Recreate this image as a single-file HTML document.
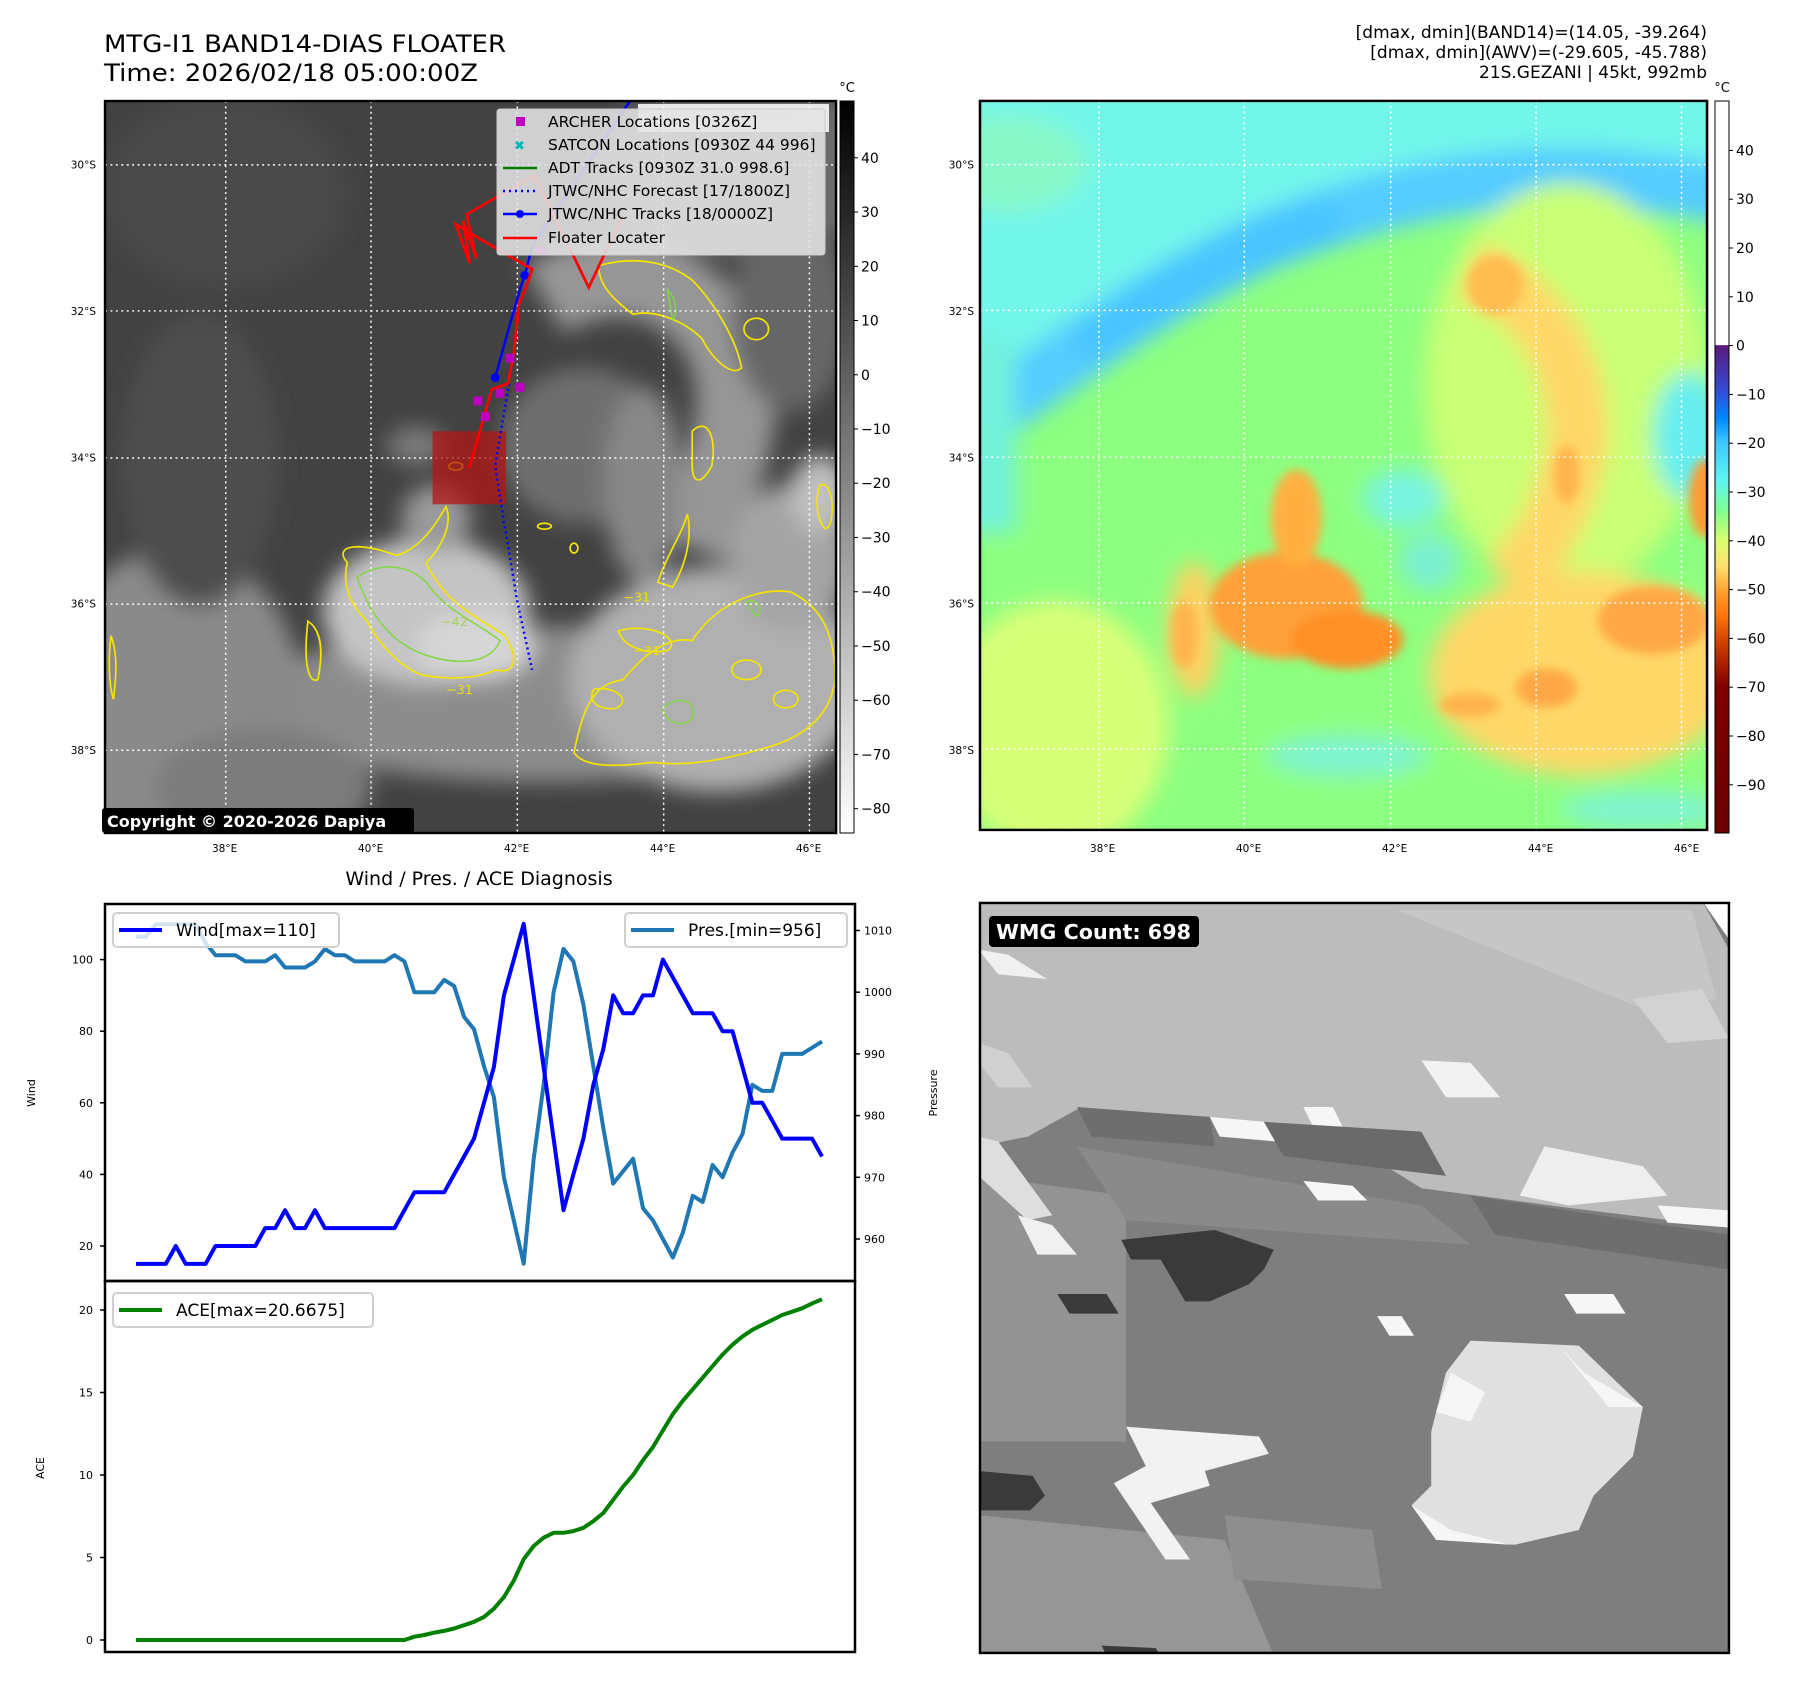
<!DOCTYPE html>
<html><head><meta charset="utf-8"><title>MTG-I1 BAND14-DIAS FLOATER</title>
<style>
html,body{margin:0;padding:0;background:#fff;}
svg{display:block;font-family:"DejaVu Sans","Liberation Sans",sans-serif;}
</style></head>
<body>
<svg id="fig" width="1797" height="1690" viewBox="0 0 1797 1690" xmlns="http://www.w3.org/2000/svg">
<defs>
  <filter id="b1" x="-50%" y="-50%" width="200%" height="200%"><feGaussianBlur stdDeviation="22"/></filter>
  <filter id="b2" x="-50%" y="-50%" width="200%" height="200%"><feGaussianBlur stdDeviation="10"/></filter>
  <clipPath id="clipL"><rect x="8" y="12" width="1484" height="1503"/></clipPath>
  <clipPath id="clipR"><rect x="0" y="12" width="1425" height="1500"/></clipPath>
  <clipPath id="clipW"><rect x="3" y="5" width="1522" height="1525"/></clipPath>
  <linearGradient id="cbGray" x1="0" y1="0" x2="0" y2="1">
    <stop offset="0" stop-color="#000"/><stop offset="1" stop-color="#fff"/>
  </linearGradient>
  <linearGradient id="cbCol" x1="0" y1="0" x2="0" y2="1">
    <stop offset="0" stop-color="#fff"/>
    <stop offset="0.333" stop-color="#fff"/>
    <stop offset="0.334" stop-color="#5a1a7c"/>
    <stop offset="0.40" stop-color="#3050d8"/>
    <stop offset="0.433" stop-color="#0088ff"/>
    <stop offset="0.467" stop-color="#40c8ff"/>
    <stop offset="0.52" stop-color="#60f4f0"/>
    <stop offset="0.56" stop-color="#80ff90"/>
    <stop offset="0.60" stop-color="#d8ff70"/>
    <stop offset="0.635" stop-color="#ffe070"/>
    <stop offset="0.67" stop-color="#ffa030"/>
    <stop offset="0.70" stop-color="#ff7a10"/>
    <stop offset="0.74" stop-color="#d04000"/>
    <stop offset="0.80" stop-color="#800000"/>
    <stop offset="1" stop-color="#6a0000"/>
  </linearGradient>
</defs>

<text x="104" y="52" font-size="24" textLength="402" lengthAdjust="spacingAndGlyphs">MTG-I1 BAND14-DIAS FLOATER</text>
<text x="104" y="81" font-size="24" textLength="374" lengthAdjust="spacingAndGlyphs">Time: 2026/02/18 05:00:00Z</text>
<g font-size="17" text-anchor="end">
  <text x="1707" y="38">[dmax, dmin](BAND14)=(14.05, -39.264)</text>
  <text x="1707" y="58">[dmax, dmin](AWV)=(-29.605, -45.788)</text>
  <text x="1707" y="78">21S.GEZANI | 45kt, 992mb</text>
</g>

<g transform="translate(101.1,95.2) scale(0.4926,0.487)">
  <g clip-path="url(#clipL)">
    <rect x="8" y="12" width="1484" height="1503" fill="#424242"/>
    <g filter="url(#b1)">
      <ellipse cx="250" cy="200" rx="250" ry="200" fill="#4a4a4a"/>
      <ellipse cx="1300" cy="150" rx="300" ry="180" fill="#6a6a6a"/>
      <path d="M900 420 C1050 330 1200 380 1270 520 C1320 650 1260 800 1200 930" stroke="#969696" stroke-width="160" fill="none"/>
      <ellipse cx="980" cy="720" rx="170" ry="160" fill="#6e6e6e"/>
      <ellipse cx="1400" cy="450" rx="120" ry="200" fill="#666"/>
      <ellipse cx="900" cy="1250" rx="620" ry="160" fill="#8c8c8c"/>
      <ellipse cx="150" cy="1250" rx="260" ry="320" fill="#8a8a8a"/>
      <ellipse cx="330" cy="1420" rx="220" ry="120" fill="#7c7c7c"/>
      <ellipse cx="1250" cy="1200" rx="300" ry="230" fill="#b0b0b0"/>
      <ellipse cx="1400" cy="950" rx="120" ry="150" fill="#a4a4a4"/>
      <ellipse cx="1460" cy="820" rx="60" ry="80" fill="#c0c0c0"/>
      <ellipse cx="660" cy="1060" rx="210" ry="150" fill="#c4c4c4"/>
      <ellipse cx="760" cy="1130" rx="120" ry="70" fill="#d6d6d6"/>
      <ellipse cx="680" cy="870" rx="70" ry="70" fill="#9a9a9a"/>
      <ellipse cx="640" cy="720" rx="60" ry="40" fill="#7a7a7a"/>
      <ellipse cx="1100" cy="800" rx="80" ry="200" fill="#888"/>
      <ellipse cx="200" cy="750" rx="160" ry="300" fill="#4e4e4e"/>
    </g>
    <g fill="none" stroke="#f5e400" stroke-width="3.5">
      <path d="M500 960 C470 925 520 915 600 945 C650 930 680 880 700 845 C715 880 690 930 660 960 C700 1050 780 1080 820 1110 C850 1160 840 1190 800 1180 C760 1200 700 1200 650 1190 C600 1170 560 1120 540 1080 C500 1040 490 1000 500 960Z"/>
      <path d="M1010 350 C1080 330 1150 340 1200 380 C1240 420 1290 500 1300 560 C1280 580 1240 540 1220 500 C1180 460 1120 440 1080 450 C1040 420 1010 390 1010 350Z"/>
      <path d="M960 1350 C980 1250 1000 1210 1060 1200 C1100 1150 1150 1110 1200 1120 C1250 1040 1340 1010 1400 1020 C1460 1050 1490 1100 1490 1200 C1480 1280 1420 1320 1350 1340 C1280 1360 1200 1380 1120 1370 C1040 1380 980 1380 960 1350Z"/>
      <path d="M1130 1000 C1150 940 1180 900 1190 860 C1200 900 1190 960 1160 1010Z"/>
      <path d="M1200 690 C1230 660 1250 700 1240 760 C1220 800 1200 800 1200 760Z"/>
      <path d="M420 1080 C450 1100 450 1150 440 1200 C420 1210 410 1160 420 1080Z"/>
      <path d="M20 1110 C35 1150 30 1200 25 1240 C15 1210 15 1150 20 1110Z"/>
      <path d="M1460 800 C1490 790 1490 890 1470 890 C1450 870 1450 820 1460 800Z"/>
      <path d="M1050 1100 C1120 1080 1180 1120 1150 1140 C1100 1150 1060 1130 1050 1100Z"/>
      <path d="M1000 1220 C1050 1210 1080 1250 1040 1260 C1000 1260 990 1240 1000 1220Z"/>
      <ellipse cx="720" cy="762" rx="14" ry="8"/><ellipse cx="900" cy="885" rx="14" ry="6"/>
      <ellipse cx="1330" cy="480" rx="25" ry="22"/><ellipse cx="960" cy="930" rx="8" ry="10"/>
      <ellipse cx="1390" cy="1240" rx="25" ry="18"/><ellipse cx="1310" cy="1180" rx="30" ry="20"/>
    </g>
    <g fill="none" stroke="#80d840" stroke-width="3">
      <path d="M520 990 C560 960 620 960 660 1000 C700 1060 760 1080 810 1120 C790 1170 720 1170 660 1150 C600 1130 550 1080 520 990Z"/>
      <path d="M1140 1260 C1170 1230 1210 1240 1200 1280 C1180 1300 1150 1290 1140 1260Z"/>
      <path d="M1310 1040 C1330 1030 1350 1060 1330 1070Z"/>
      <path d="M1150 400 C1170 420 1170 450 1160 460Z"/>
    </g>
    <g fill="#f0e000" font-size="26">
      <text x="1060" y="1040">−31</text><text x="1080" y="1150">−31</text><text x="700" y="1230">−31</text>
      <text x="690" y="1090" fill="#a8d060">−42</text>
    </g>
    <g stroke="#fff" stroke-width="3" stroke-dasharray="4,7">
      <line x1="8" y1="143" x2="1492" y2="143"/><line x1="8" y1="443" x2="1492" y2="443"/>
      <line x1="8" y1="745" x2="1492" y2="745"/><line x1="8" y1="1045" x2="1492" y2="1045"/>
      <line x1="8" y1="1345" x2="1492" y2="1345"/>
      <line x1="253" y1="12" x2="253" y2="1515"/><line x1="548" y1="12" x2="548" y2="1515"/>
      <line x1="845" y1="12" x2="845" y2="1515"/><line x1="1142" y1="12" x2="1142" y2="1515"/>
      <line x1="1438" y1="12" x2="1438" y2="1515"/>
    </g>
    <rect x="673" y="690" width="149" height="150" fill="#b41414" fill-opacity="0.72"/>
    <polyline points="828,592 800,760 812,840 845,1040 875,1180" fill="none" stroke="#0000ff" stroke-width="5" stroke-dasharray="4,7"/>
    <polyline points="800,580 830,470 850,400 860,370 875,310 1075,10" fill="none" stroke="#0000ff" stroke-width="5"/>
    <circle cx="800" cy="580" r="9" fill="#0000ff"/><circle cx="860" cy="370" r="9" fill="#0000ff"/>
    <polyline points="748,765 793,604 826,592 838,530 848,430 866,385 875,357 760,290 720,265 748,345 735,258 762,335 742,245 810,205 880,165 990,395 1020,330 1060,250" fill="none" stroke="#ff0000" stroke-width="5.5"/>
    <g fill="#c000c0">
      <rect x="821" y="531" width="18" height="18"/><rect x="841" y="591" width="18" height="18"/>
      <rect x="801" y="603" width="18" height="18"/><rect x="756" y="619" width="18" height="18"/>
      <rect x="771" y="651" width="18" height="18"/><rect x="884" y="311" width="18" height="18"/>
    </g>
  </g>
  <rect x="8" y="12" width="1484" height="1503" fill="none" stroke="#000" stroke-width="5"/>
</g>
<g>
  <rect x="638" y="104" width="191" height="28" fill="#fff" fill-opacity="0.85"/>
  <text x="650" y="124" font-size="14" font-weight="bold" fill="#ddd">© EUMETSAT 2026</text>
  <rect x="497" y="109" width="328" height="146" rx="3" fill="#e4e4e4" fill-opacity="0.88" stroke="#ccc"/>
  <g font-size="15.5" fill="#000">
    <rect x="516" y="117" width="9" height="9" fill="#c000c0"/>
    <text x="548" y="127">ARCHER Locations [0326Z]</text>
    <text x="514" y="150" fill="#00b8b8" font-size="13" font-weight="bold">✖</text>
    <text x="548" y="150">SATCON Locations [0930Z 44 996]</text>
    <line x1="503" y1="168" x2="537" y2="168" stroke="#008000" stroke-width="2.5"/>
    <text x="548" y="173">ADT Tracks [0930Z 31.0 998.6]</text>
    <line x1="503" y1="191" x2="537" y2="191" stroke="#0000ff" stroke-width="2.5" stroke-dasharray="2,4"/>
    <text x="548" y="196">JTWC/NHC Forecast [17/1800Z]</text>
    <line x1="503" y1="214" x2="537" y2="214" stroke="#0000ff" stroke-width="2.5"/><circle cx="520" cy="214" r="4" fill="#0000ff"/>
    <text x="548" y="219">JTWC/NHC Tracks [18/0000Z]</text>
    <line x1="503" y1="238" x2="537" y2="238" stroke="#ff0000" stroke-width="2.5"/>
    <text x="548" y="243">Floater Locater</text>
  </g>
</g>
<g>
  <rect x="102" y="808" width="312" height="25" rx="3" fill="#000"/>
  <text x="107" y="827" font-size="16" font-weight="bold" fill="#fff">Copyright © 2020-2026 Dapiya</text>
</g>

<g transform="translate(980,95.1) scale(0.5102,0.486)">
  <g clip-path="url(#clipR)">
    <rect x="0" y="12" width="1425" height="1500" fill="#8cff80"/>
    <g filter="url(#b1)">
      <polygon points="-50,-50 1500,-50 1500,190 1100,150 800,180 400,360 -50,630" fill="#72f6ea"/>
      <path d="M-40 700 C150 560 350 400 560 300 C800 200 1000 160 1200 170 C1350 180 1450 200 1500 210" stroke="#54ccff" stroke-width="120" fill="none"/>
      <path d="M200 520 C350 400 500 320 700 250" stroke="#4ac4ff" stroke-width="90" fill="none"/>
      <ellipse cx="60" cy="140" rx="150" ry="100" fill="#88f8c8"/>
      <rect x="-40" y="500" width="110" height="400" fill="#72f2dc"/>
      <ellipse cx="150" cy="1300" rx="220" ry="260" fill="#d8ff78"/>
      <ellipse cx="1150" cy="600" rx="280" ry="420" fill="#c8ff74"/>
      <path d="M960 360 C1100 420 1180 560 1170 720 C1150 850 1090 950 1030 1000" stroke="#ffd868" stroke-width="120" fill="none"/>
      <ellipse cx="1180" cy="1190" rx="300" ry="210" fill="#ffd868"/>
      <ellipse cx="830" cy="830" rx="80" ry="60" fill="#78f4e0"/>
      <ellipse cx="880" cy="960" rx="60" ry="60" fill="#7cf0d0"/>
      <ellipse cx="1390" cy="700" rx="70" ry="130" fill="#66eef0"/>
      <ellipse cx="720" cy="1360" rx="160" ry="45" fill="#80f4d0"/>
      <ellipse cx="1300" cy="1470" rx="160" ry="40" fill="#80f4d0"/>
      <ellipse cx="420" cy="1100" rx="50" ry="140" fill="#ffd060"/>
    </g>
    <g filter="url(#b2)">
      <ellipse cx="600" cy="1050" rx="150" ry="110" fill="#ffa038"/>
      <ellipse cx="720" cy="1120" rx="110" ry="60" fill="#ff9028"/>
      <ellipse cx="620" cy="870" rx="50" ry="100" fill="#ffb040"/>
      <ellipse cx="1010" cy="390" rx="55" ry="60" fill="#ffbc50"/>
      <ellipse cx="1320" cy="1080" rx="110" ry="70" fill="#ffa844"/>
      <ellipse cx="1110" cy="1220" rx="60" ry="40" fill="#ffa844"/>
      <ellipse cx="960" cy="1255" rx="60" ry="25" fill="#ffb44c"/>
      <ellipse cx="1150" cy="780" rx="25" ry="60" fill="#ffb44c"/>
      <ellipse cx="1420" cy="830" rx="30" ry="80" fill="#ff9a30"/>
      <ellipse cx="400" cy="1110" rx="25" ry="70" fill="#ffb44c"/>
    </g>
    <g stroke="#fff" stroke-width="3" stroke-dasharray="4,7">
      <line x1="0" y1="143" x2="1425" y2="143"/><line x1="0" y1="443" x2="1425" y2="443"/>
      <line x1="0" y1="745" x2="1425" y2="745"/><line x1="0" y1="1045" x2="1425" y2="1045"/>
      <line x1="0" y1="1345" x2="1425" y2="1345"/>
      <line x1="233" y1="12" x2="233" y2="1512"/><line x1="518" y1="12" x2="518" y2="1512"/>
      <line x1="805" y1="12" x2="805" y2="1512"/><line x1="1090" y1="12" x2="1090" y2="1512"/>
      <line x1="1375" y1="12" x2="1375" y2="1512"/>
    </g>
  </g>
  <rect x="0" y="12" width="1425" height="1500" fill="none" stroke="#000" stroke-width="5"/>
</g>

<g>
  <rect x="840" y="101" width="14" height="732" fill="url(#cbGray)" stroke="#000" stroke-width="1"/>
  <text x="847" y="92" font-size="13" text-anchor="middle">°C</text>
  <g id="cb1ticks" font-size="14"></g>
</g>
<g>
  <rect x="1715" y="101" width="14" height="732" fill="url(#cbCol)" stroke="#000" stroke-width="1"/>
  <text x="1722" y="92" font-size="13" text-anchor="middle">°C</text>
  <g id="cb2ticks" font-size="14"></g>
</g>
<g id="mapTicks" font-size="10.5"></g>

<text x="479" y="885" font-size="19" text-anchor="middle">Wind / Pres. / ACE Diagnosis</text>
<g id="chart"></g>

<g transform="translate(978.5,900.5) scale(0.4921,0.4918)">
  <g clip-path="url(#clipW)">
    <rect x="0" y="0" width="1530" height="1535" fill="#7e7e7e"/>
    <polygon points="0,560 300,600 300,1100 0,1100" fill="#939393"/>
    <polygon points="0,1250 500,1300 600,1535 0,1535" fill="#969696"/>
    <polygon points="500,1250 800,1280 820,1400 520,1380" fill="#8e8e8e"/>
    <polygon points="200,500 900,620 1000,700 300,650" fill="#8a8a8a"/>
    <polygon points="0,0 1470,0 1525,100 1525,665 1200,625 900,585 700,460 450,440 200,425 100,480 0,500" fill="#bcbcbc"/>
    <polygon points="850,20 1450,20 1500,200 1350,220" fill="#c6c6c6"/>
    <polygon points="1330,200 1470,180 1525,280 1400,290" fill="#d2d2d2"/>
    <polygon points="0,100 60,110 140,160 40,150" fill="#f0f0f0"/>
    <polygon points="0,290 60,310 110,380 40,380 0,330" fill="#d0d0d0"/>
    <polygon points="0,480 40,490 150,640 100,650 0,560" fill="#dedede"/>
    <polygon points="80,640 150,660 200,720 120,720" fill="#f0f0f0"/>
    <polygon points="470,440 580,450 605,490 490,480" fill="#f6f6f6"/>
    <polygon points="660,420 720,420 740,460 680,460" fill="#f6f6f6"/>
    <polygon points="900,325 1000,330 1060,400 950,400" fill="#f2f2f2"/>
    <polygon points="1150,500 1350,540 1400,600 1200,620 1100,600" fill="#eeeeee"/>
    <polygon points="660,570 760,580 790,610 690,610" fill="#f6f6f6"/>
    <polygon points="1380,620 1525,630 1525,665 1400,655" fill="#f6f6f6"/>
    <polygon points="200,420 470,440 480,500 230,480" fill="#6e6e6e"/>
    <polygon points="580,450 900,470 950,560 620,520" fill="#6a6a6a"/>
    <polygon points="1000,600 1525,680 1525,750 1050,680" fill="#6e6e6e"/>
    <polygon points="290,690 480,670 600,710 580,750 550,780 470,815 420,815 370,730 310,730" fill="#3a3a3a"/>
    <polygon points="160,800 260,800 285,840 185,840" fill="#3a3a3a"/>
    <polygon points="0,1160 110,1170 135,1210 105,1240 0,1240" fill="#3a3a3a"/>
    <polygon points="250,1515 360,1520 370,1535 260,1535" fill="#3a3a3a"/>
    <polygon points="300,1070 570,1090 590,1125 460,1160 470,1190 350,1225 430,1340 380,1340 275,1185 340,1150" fill="#f2f2f2"/>
    <polygon points="1000,895 1220,905 1350,1030 1330,1130 1250,1210 1220,1280 1090,1310 930,1300 880,1230 920,1190 920,1080 950,960" fill="#e0e0e0"/>
    <polygon points="960,960 1030,1000 1000,1060 930,1040" fill="#f6f6f6"/>
    <polygon points="1180,905 1230,960 1350,1030 1280,1030" fill="#f6f6f6"/>
    <polygon points="880,1230 960,1280 1080,1310 930,1300" fill="#f6f6f6"/>
    <polygon points="810,845 860,845 885,885 835,885" fill="#f6f6f6"/>
    <polygon points="1190,800 1290,800 1315,840 1215,840" fill="#f6f6f6"/>
    <polygon points="1470,0 1540,0 1540,100" fill="#ffffff"/>
  </g>
  <rect x="3" y="5" width="1522" height="1525" fill="none" stroke="#000" stroke-width="5"/>
</g>
<g>
  <rect x="989" y="916" width="210" height="31" rx="4" fill="#000"/>
  <text x="996" y="939" font-size="20" font-weight="bold" fill="#fff" textLength="195" lengthAdjust="spacingAndGlyphs">WMG Count: 698</text>
</g>

<script>
// ===== chart data =====
const windValues = [15,15,15,15,20,15,15,15,20,20,20,20,20,25,25,30,25,25,30,25,25,25,25,25,25,25,25,30,35,35,35,35,40,45,50,60,70,90,100,110,90,70,50,30,40,50,65,75,90,85,85,90,90,100,95,90,85,85,85,80,80,70,60,60,55,50,50,50,50,45];
const presValues = [1009,1009,1011,1011,1011,1011,1011,1008,1006,1006,1006,1005,1005,1005,1006,1004,1004,1004,1005,1007,1006,1006,1005,1005,1005,1005,1006,1005,1000,1000,1000,1002,1001,996,994,988,983,970,963,956,973,985,1000,1007,1005,998,988,978,969,971,973,965,963,960,957,961,967,966,972,970,974,977,985,984,984,990,990,990,991,992];
const aceValues = [0,0,0,0,0,0,0,0,0,0,0,0,0,0,0,0,0,0,0,0,0,0,0,0,0,0,0,0,0.2,0.3,0.45,0.55,0.7,0.9,1.1,1.4,1.9,2.6,3.6,4.9,5.7,6.2,6.5,6.5,6.6,6.8,7.2,7.7,8.5,9.3,10.0,10.9,11.7,12.7,13.7,14.5,15.2,15.9,16.6,17.3,17.9,18.4,18.8,19.1,19.4,19.7,19.9,20.1,20.4,20.65];
const windTicks = [20,40,60,80,100];
const presTicks = [960,970,980,990,1000,1010];
const aceTicks = [0,5,10,15,20];
const irCbTicks = [40,30,20,10,0,-10,-20,-30,-40,-50,-60,-70,-80];
const wvCbTicks = [40,30,20,10,0,-10,-20,-30,-40,-50,-60,-70,-80,-90];
const latTicks = [30,32,34,36,38];
const lonTicks = [38,40,42,44,46];

const NS = 'http://www.w3.org/2000/svg';
function mk(tag, attrs, parent){ const e=document.createElementNS(NS,tag); for(const k in attrs) e.setAttribute(k,attrs[k]); parent.appendChild(e); return e; }
const fmt = v => (v<0 ? '\u2212'+Math.abs(v) : String(v));

const L=105, R=855, T=904, MID=1281, B=1652;
const xs = i => 136 + i*(822-136)/(windValues.length-1);
const yWind = w => 1246 - (w-20)*3.58;
const yPres = p => 1239 - (p-960)*6.17;
const yAce = a => 1640 - a*16.5;
const yIrCb = v => 157.8 + (40-v)*5.424;
const yWvCb = v => 345.6 - v*4.88;
const yLat = lat => 164.7 + (lat-30)/2*146.3;
const xLon = lon => 224.6 + (lon-38)/2*146.0;

const chart = document.getElementById('chart');
let pts = presValues.map((p,i)=>xs(i).toFixed(1)+','+yPres(p).toFixed(1)).join(' ');
let pl = mk('polyline',{points:pts,fill:'none',stroke:'#1f77b4','stroke-width':4,'stroke-linejoin':'round'},chart);


pts = windValues.map((w,i)=>xs(i).toFixed(1)+','+yWind(w).toFixed(1)).join(' ');
let wl = mk('polyline',{points:pts,fill:'none',stroke:'#0000ff','stroke-width':4,'stroke-linejoin':'round'},chart);


pts = aceValues.map((a,i)=>xs(i).toFixed(1)+','+yAce(a).toFixed(1)).join(' ');
let al = mk('polyline',{points:pts,fill:'none',stroke:'#008000','stroke-width':4,'stroke-linejoin':'round'},chart);



let f1 = mk('rect',{x:L,y:T,width:R-L,height:MID-T,fill:'none',stroke:'#000','stroke-width':2.5},chart);


let f2 = mk('rect',{x:L,y:MID,width:R-L,height:B-MID,fill:'none',stroke:'#000','stroke-width':2.5},chart);



windTicks.forEach(v=>{ const y=yWind(v);
  mk('line',{x1:L-5,y1:y,x2:L,y2:y,stroke:'#000','stroke-width':1.5},chart);
  const t=mk('text',{x:L-12,y:y+4,'font-size':11,'text-anchor':'end'},chart); t.textContent=v;
  
  
});
presTicks.forEach(v=>{ const y=yPres(v);
  mk('line',{x1:R,y1:y,x2:R+5,y2:y,stroke:'#000','stroke-width':1.5},chart);
  const t=mk('text',{x:R+9,y:y+4,'font-size':11},chart); t.textContent=v;
  
  
});
aceTicks.forEach(v=>{ const y=yAce(v);
  mk('line',{x1:L-5,y1:y,x2:L,y2:y,stroke:'#000','stroke-width':1.5},chart);
  const t=mk('text',{x:L-12,y:y+4,'font-size':11,'text-anchor':'end'},chart); t.textContent=v;
  
  
});
function rotLabel(txt,x,y,name){ const t=mk('text',{x:x,y:y,'font-size':11,'text-anchor':'middle',transform:'rotate(-90 '+x+' '+y+')'},chart); t.textContent=txt;
  
   }
rotLabel('Wind',35,1093,'wind-axis-title');
rotLabel('Pressure',937,1093,'pressure-axis-title');
rotLabel('ACE',44,1468,'ace-axis-title');

function legend(x,y,w,color,label,name){
  const g=mk('g',{},chart);
  
  
  mk('rect',{x:x,y:y,width:w,height:34,rx:4,fill:'#fff','fill-opacity':0.8,stroke:'#d0d0d0','stroke-width':2},g);
  mk('line',{x1:x+6,y1:y+17,x2:x+49,y2:y+17,stroke:color,'stroke-width':4},g);
  const t=mk('text',{x:x+63,y:y+23,'font-size':17},g); t.textContent=label;
}
legend(113,913,226,'#0000ff','Wind[max=110]','wind-legend');
legend(625,913,222,'#1f77b4','Pres.[min=956]','pressure-legend');
legend(113,1293,260,'#008000','ACE[max=20.6675]','ace-legend');

const cb1=document.getElementById('cb1ticks');
irCbTicks.forEach(v=>{ const y=yIrCb(v);
  mk('line',{x1:854,y1:y,x2:858,y2:y,stroke:'#000','stroke-width':1},cb1);
  const t=mk('text',{x:861,y:y+5},cb1); t.textContent=fmt(v);
  
  
});
const cb2=document.getElementById('cb2ticks');
wvCbTicks.forEach(v=>{ const y=yWvCb(v);
  mk('line',{x1:1729,y1:y,x2:1733,y2:y,stroke:'#000','stroke-width':1},cb2);
  const t=mk('text',{x:1736,y:y+5},cb2); t.textContent=fmt(v);
  
  
});
const mt=document.getElementById('mapTicks');
[0,878].forEach(off=>{
  latTicks.forEach(lat=>{ const t=mk('text',{x:96+off,y:yLat(lat)+4,'text-anchor':'end'},mt); t.textContent=lat+'°S';
    
     });
  lonTicks.forEach(lon=>{ const t=mk('text',{x:xLon(lon)+off,y:852,'text-anchor':'middle'},mt); t.textContent=lon+'°E';
    
     });
});
</script>
</svg>
</body></html>
